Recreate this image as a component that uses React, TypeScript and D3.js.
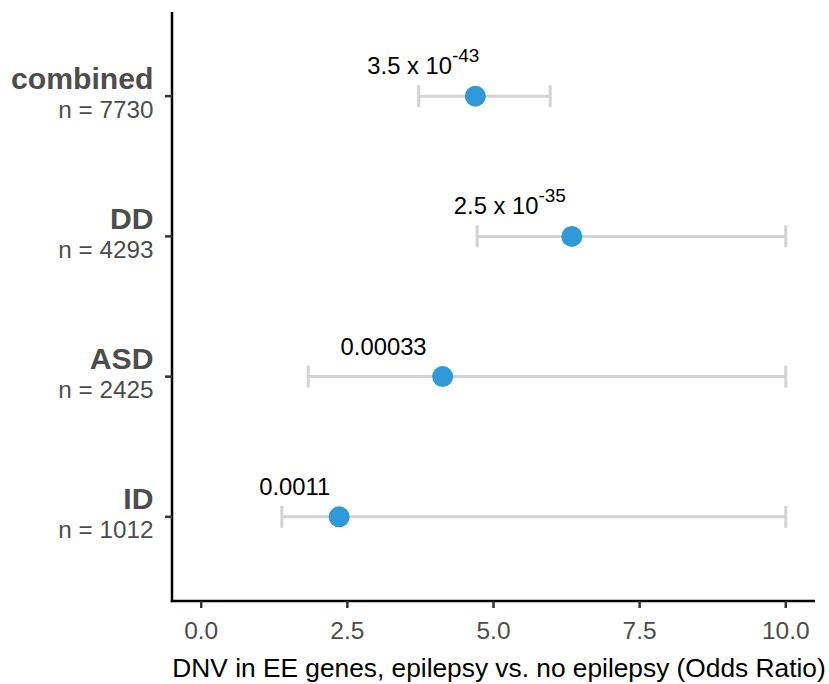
import React from "react";
import { scaleLinear, scalePoint } from "d3";

// forest plot: odds ratio of DNV in EE genes by cohort
const categories = ["combined", "DD", "ASD", "ID"];
const sampleSizes = [7730, 4293, 2425, 1012];
const oddsRatio = [4.69, 6.34, 4.13, 2.36];
const ciLow = [3.72, 4.72, 1.83, 1.38];
const ciHigh = [5.97, 10.0, 10.0, 10.0];
const pLabels = ["3.5 x 10", "2.5 x 10", "0.00033", "0.0011"];
const pExponents = ["-43", "-35", "", ""];
const pLabelX = [3.8, 5.28, 3.12, 1.6];
const xTicks = [0, 2.5, 5, 7.5, 10];
const xTitle = "DNV in EE genes, epilepsy vs. no epilepsy (Odds Ratio)";

const W = 829;
const H = 684;
const FONT = "'Liberation Sans', Arial, Helvetica, sans-serif";

function Txt({ x, y, anchor = "start", size, weight = "normal", fill = "#000", children }: any) {
  return (
    <text x={x} y={y} textAnchor={anchor} fontFamily={FONT} fontSize={size} fontWeight={weight} fill={fill}>
      {children}
    </text>
  );
}

export default function App() {
  const left = 172;
  const right = 815;
  const top = 12;
  const bottom = 601;

  const x = scaleLinear().domain([-0.5, 10.5]).range([left, right]);
  const y = scalePoint<string>().domain(categories).range([top, bottom]).padding(0.6);

  return (
    <div>
      <style>{"body{margin:0}"}</style>
      <svg width={W} height={H} style={{ display: "block", background: "#fff" }}>
        {/* error bars + points */}
        {categories.map((c, i) => {
          const cy = y(c) as number;
          return (
            <g key={c}>
              <line x1={x(ciLow[i])} x2={x(ciHigh[i])} y1={cy} y2={cy} stroke="#d3d3d3" strokeWidth={3} />
              <line x1={x(ciLow[i])} x2={x(ciLow[i])} y1={cy - 11} y2={cy + 11} stroke="#d3d3d3" strokeWidth={3} />
              <line x1={x(ciHigh[i])} x2={x(ciHigh[i])} y1={cy - 11} y2={cy + 11} stroke="#d3d3d3" strokeWidth={3} />
              <circle cx={x(oddsRatio[i])} cy={cy} r={10.5} fill="#2e9ad8" />
              <Txt x={x(pLabelX[i])} y={cy - 22} anchor="middle" size={23.8}>
                {pLabels[i]}
                {pExponents[i] && (
                  <tspan dy={-12} fontSize={19}>
                    {pExponents[i]}
                  </tspan>
                )}
              </Txt>
            </g>
          );
        })}

        {/* y axis */}
        <line x1={left} x2={left} y1={top} y2={bottom + 1.25} stroke="#000" strokeWidth={2.5} />
        {categories.map((c, i) => {
          const cy = y(c) as number;
          return (
            <g key={c}>
              <line x1={left - 7} x2={left} y1={cy} y2={cy} stroke="#333" strokeWidth={2.5} />
              <Txt x={153.5} y={cy - 7.5} anchor="end" size={30.2} weight="bold" fill="#4d4d4d">
                {c}
              </Txt>
              <Txt x={153.5} y={cy + 21.5} anchor="end" size={24.3} fill="#4d4d4d">
                {`n = ${sampleSizes[i]}`}
              </Txt>
            </g>
          );
        })}

        {/* x axis */}
        <line x1={left - 1.25} x2={right} y1={bottom} y2={bottom} stroke="#000" strokeWidth={2.5} />
        {xTicks.map((t) => (
          <g key={t}>
            <line x1={x(t)} x2={x(t)} y1={bottom} y2={bottom + 7} stroke="#333" strokeWidth={2.5} />
            <Txt x={x(t)} y={638.5} anchor="middle" size={24.5} fill="#4d4d4d">
              {t.toFixed(1)}
            </Txt>
          </g>
        ))}
        <Txt x={499} y={677} anchor="middle" size={26.3}>
          {xTitle}
        </Txt>
      </svg>
    </div>
  );
}
